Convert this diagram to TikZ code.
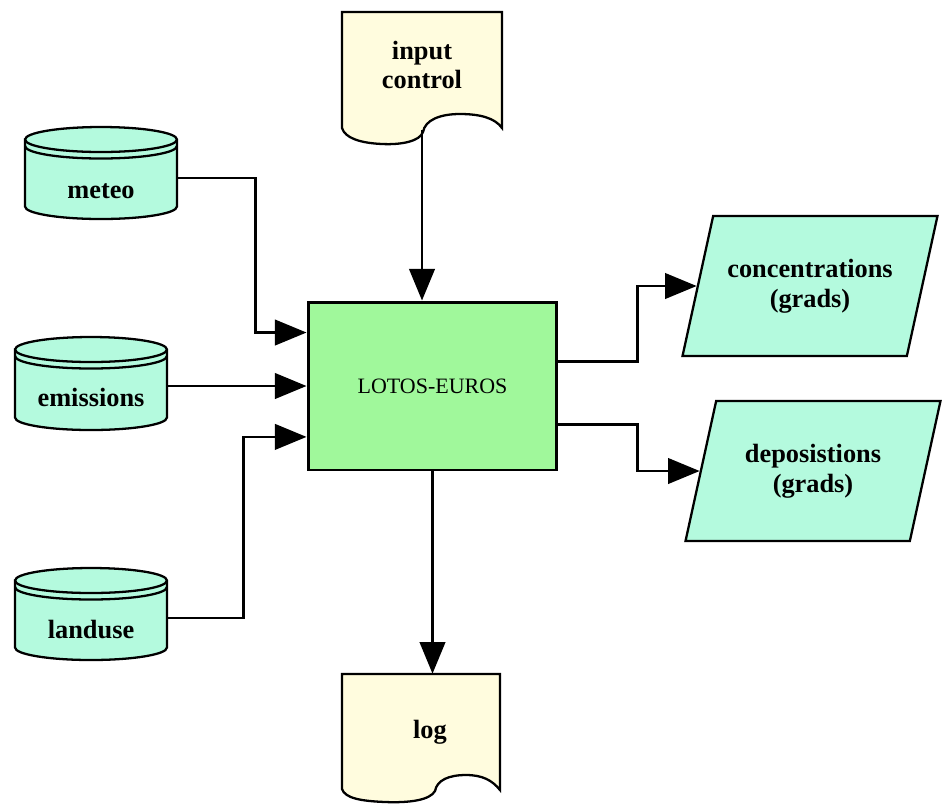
\documentclass[tikz,border=0pt]{standalone}
\usepackage{fontspec}
\setmainfont{Liberation Serif}
\usetikzlibrary{arrows.meta,shapes.geometric}
\definecolor{drumgreen}{RGB}{180,250,222}
\definecolor{boxgreen}{RGB}{160,248,155}
\definecolor{papercream}{RGB}{255,252,222}

\begin{document}
\begin{tikzpicture}[x=0.02cm,y=-0.02cm,
  drum/.style={fill=drumgreen, draw=black, line width=1.3pt},
  rim/.style={draw=black, line width=1.3pt},
  drumarc/.style={x radius=1.52cm, y radius=0.25cm},
  paper/.style={fill=papercream, draw=black, line width=1.3pt},
  lbl/.style={font=\bfseries\fontsize{15}{17}\selectfont, align=center},
  drumlbl/.style={font=\bfseries\fontsize{15}{17}\selectfont, minimum width=3.04cm,
    text height=26pt, text depth=3pt, inner sep=0pt},
  outbox/.style={trapezium, trapezium left angle=65, trapezium right angle=115,
    trapezium stretches body=true, minimum width=5.1cm, minimum height=2.8cm,
    fill=drumgreen, draw=black, line width=1.3pt, lbl},
  flow/.style={line width=1.5pt, -{Triangle[length=18pt,width=14.5pt]}}]
\useasboundingbox (0,0) rectangle (943,806);

% data bases
\filldraw[drum] (25,139.5) -- (25,206.5) arc[drumarc, start angle=180, end angle=360]
  -- (177,139.5) arc[drumarc, start angle=0, end angle=180] -- cycle;
\draw[rim] (25,139.5) arc[drumarc, start angle=180, end angle=360];
\draw[rim] (25,146) arc[drumarc, start angle=180, end angle=360];
\filldraw[drum] (15,349.5) -- (15,417.5) arc[drumarc, start angle=180, end angle=360]
  -- (167,349.5) arc[drumarc, start angle=0, end angle=180] -- cycle;
\draw[rim] (15,349.5) arc[drumarc, start angle=180, end angle=360];
\draw[rim] (15,356) arc[drumarc, start angle=180, end angle=360];
\filldraw[drum] (15,580.5) -- (15,647.5) arc[drumarc, start angle=180, end angle=360]
  -- (167,580.5) arc[drumarc, start angle=0, end angle=180] -- cycle;
\draw[rim] (15,580.5) arc[drumarc, start angle=180, end angle=360];
\draw[rim] (15,587) arc[drumarc, start angle=180, end angle=360];

% documents
\filldraw[paper] (342,12) -- (502,12) -- (502,128)
  .. controls (495,118) and (480,114) .. (460,114)
  .. controls (440,114) and (425,120) .. (423,132)
  .. controls (420,141) and (402,145) .. (382,144)
  .. controls (360,143) and (345,138) .. (342,128) -- cycle;
\filldraw[paper] (342,674) -- (500,674) -- (500,790)
  .. controls (492,780) and (482,775) .. (466,775)
  .. controls (449,775) and (437,780) .. (435,791)
  .. controls (430,800) and (410,803) .. (385,802)
  .. controls (360,801) and (345,798) .. (342,789) -- cycle;

\node[drumlbl] (meteo) at (101,178) {meteo};
\node[drumlbl] (emis) at (91,386) {emissions};
\node[drumlbl] (landuse) at (91,618) {landuse};
\node[lbl, minimum width=3.2cm, minimum height=2.6cm] (input) at (422,65) {input\\control};
\node[lbl, minimum width=3.16cm, minimum height=2.32cm] (log) at (430,732) {log};
\node[fill=boxgreen, draw=black, line width=1.7pt, minimum width=4.98cm, minimum height=3.36cm,
  font=\fontsize{12.5}{15}\selectfont] (lotos) at (432.5,386) {LOTOS-EUROS};
\node[outbox] (conc) at (810,286) {concentrations\\(grads)};
\node[outbox] (depo) at (813,471) {deposistions\\(grads)};

\draw[flow] (meteo.east) -- ++(78,0) |- (lotos.157);
\draw[flow] (emis.east) -- (lotos.west);
\draw[flow] (landuse.east) -- ++(76,0) |- (lotos.202);
\draw[flow] (input.south) -- (input.south |- lotos.north);
\draw[flow] (lotos.11) -- ++(79,0) |- (conc.left side);
\draw[flow] (lotos.343) -- ++(79,0) |- (depo.left side);
\draw[flow] (lotos.south) -- (lotos.south |- log.north);
\end{tikzpicture}
\end{document}
